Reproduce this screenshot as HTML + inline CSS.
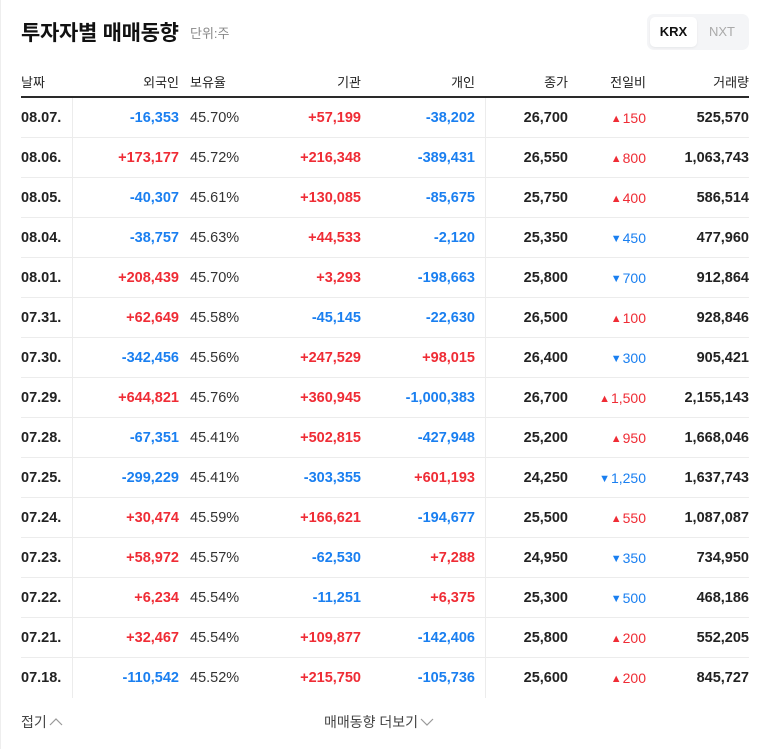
<!DOCTYPE html>
<html><head><meta charset="utf-8">
<style>
*{margin:0;padding:0;box-sizing:border-box}
body{width:768px;height:749px;background:#fff;font-family:"Liberation Sans","Noto Sans CJK KR",sans-serif;color:#222;position:relative;overflow:hidden}
.abs{position:absolute}
.edge{left:0;top:0;width:1px;height:749px;background:#eee}
.title{left:21px;top:17px;font-size:21px;font-weight:bold;color:#111;letter-spacing:-0.3px}
.unit{left:190px;top:23px;font-size:13px;color:#888}
.toggle{left:647px;top:14px;width:102px;height:36px;background:#f4f5f7;border-radius:7px}
.krx{left:3px;top:3px;width:47px;height:30px;background:#fff;border-radius:5px;font-size:13px;font-weight:bold;text-align:center;line-height:30px;color:#111;box-shadow:0 1px 2px rgba(0,0,0,.06)}
.nxt{left:50px;top:3px;width:50px;height:30px;font-size:13px;text-align:center;line-height:30px;color:#aaa}
.hd{top:72px;font-size:13px;color:#222}
.thick{left:21px;top:96px;width:728px;height:2px;background:#2a2a2a}
.row{left:21px;width:728px;height:40px;border-bottom:1px solid #ececec}
.c{position:absolute;top:0;line-height:40px;font-size:14.5px;white-space:nowrap}
.r{text-align:right}
.b{font-weight:bold}
.red{color:#ef2c35}.blue{color:#1a7ff0}
.vs{position:absolute;top:98px;width:1px;height:600px;background:#ececec}
.foot{top:712px;font-size:14px;color:#444}
</style></head><body>
<div class="abs edge"></div>
<div class="abs title">투자자별 매매동향</div>
<div class="abs unit">단위:주</div>
<div class="abs toggle">
 <div class="abs krx">KRX</div>
 <div class="abs nxt">NXT</div>
</div>
<div class="abs hd" style="left:21px">날짜</div>
<div class="abs hd r" style="right:589px">외국인</div>
<div class="abs hd" style="left:190px">보유율</div>
<div class="abs hd r" style="right:407px">기관</div>
<div class="abs hd r" style="right:293px">개인</div>
<div class="abs hd r" style="right:200px">종가</div>
<div class="abs hd r" style="right:122px">전일비</div>
<div class="abs hd r" style="right:19px">거래량</div>
<div class="abs thick"></div>
<div class="vs" style="left:72px"></div>
<div class="vs" style="left:485px"></div>
<div id="rows"></div>
<div class="abs foot" style="left:21px">접기<svg width="14" height="10" style="margin-left:2px"><path d="M1 8 L7 2 L13 8" fill="none" stroke="#999" stroke-width="1.2"/></svg></div>
<div class="abs foot" style="left:324px">매매동향 더보기<svg width="14" height="10" style="margin-left:2px"><path d="M1 2 L7 8 L13 2" fill="none" stroke="#999" stroke-width="1.2"/></svg></div>
<script>
const dates=["08.07.","08.06.","08.05.","08.04.","08.01.","07.31.","07.30.","07.29.","07.28.","07.25.","07.24.","07.23.","07.22.","07.21.","07.18."];
const foreign=[-16353,173177,-40307,-38757,208439,62649,-342456,644821,-67351,-299229,30474,58972,6234,32467,-110542];
const holding=["45.70%","45.72%","45.61%","45.63%","45.70%","45.58%","45.56%","45.76%","45.41%","45.41%","45.59%","45.57%","45.54%","45.54%","45.52%"];
const inst=[57199,216348,130085,44533,3293,-45145,247529,360945,502815,-303355,166621,-62530,-11251,109877,215750];
const indiv=[-38202,-389431,-85675,-2120,-198663,-22630,98015,-1000383,-427948,601193,-194677,7288,6375,-142406,-105736];
const closes=[26700,26550,25750,25350,25800,26500,26400,26700,25200,24250,25500,24950,25300,25800,25600];
const changes=[150,800,400,-450,-700,100,-300,1500,950,-1250,550,-350,-500,200,200];
const volumes=[525570,1063743,586514,477960,912864,928846,905421,2155143,1668046,1637743,1087087,734950,468186,552205,845727];
const fmt=n=>Math.abs(n).toLocaleString('en-US');
const sg=n=>(n>0?'+':'-')+fmt(n);
const cl=n=>n>0?'red':'blue';
const box=document.getElementById('rows');
dates.forEach((d,i)=>{
 const r=document.createElement('div');
 r.className='abs row';r.style.top=(98+i*40)+'px';
 if(i===dates.length-1) r.style.borderBottom='none';
 
 
 const ch=changes[i];
 r.innerHTML=
 `<div class="c b" style="left:0">${d}</div>`+
 `<div class="c r b ${cl(foreign[i])}" style="right:570px">${sg(foreign[i])}</div>`+
 `<div class="c" style="left:169px;color:#333">${holding[i]}</div>`+
 `<div class="c r b ${cl(inst[i])}" style="right:388px">${sg(inst[i])}</div>`+
 `<div class="c r b ${cl(indiv[i])}" style="right:274px">${sg(indiv[i])}</div>`+
 `<div class="c r b" style="right:181px">${fmt(closes[i])}</div>`+
 `<div class="c r ${cl(ch)}" style="right:103px;font-size:14px"><span style="font-size:11px;vertical-align:1px;margin-right:1px">${ch>0?'▲':'▼'}</span>${fmt(ch)}</div>`+
 `<div class="c r b" style="right:0">${fmt(volumes[i])}</div>`;
 box.appendChild(r);
});
</script>
</body></html>
